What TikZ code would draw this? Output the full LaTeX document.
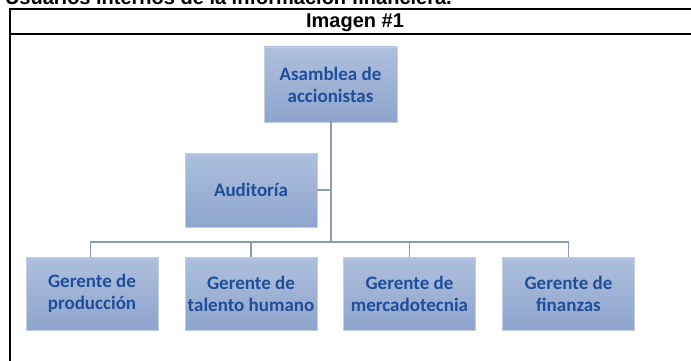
\documentclass[tikz,border=0pt]{standalone}
\usepackage{fontspec}
\setmainfont{Carlito}
\newfontfamily\arialf{Liberation Sans}
\definecolor{boxtop}{HTML}{AFC0DE}
\definecolor{boxbot}{HTML}{8DA4CD}
\definecolor{boxedge}{HTML}{C3CEE3}
\definecolor{boxtext}{HTML}{1F4E9A}
\definecolor{linec}{HTML}{8A9AB5}
\begin{document}
\begin{tikzpicture}[x=1pt,y=-1pt,
  orgbox/.style={draw=boxedge, line width=0.8pt, top color=boxtop, bottom color=boxbot,
    minimum width=132pt, minimum height=74pt, align=center, text=boxtext,
    font=\fontsize{19}{22}\selectfont\bfseries, inner sep=0pt},
  conn/.style={draw=linec, line width=1.5pt},
  frame/.style={draw=black, line width=2pt},
  hdr/.style={font=\arialf\bfseries\fontsize{20}{24}\selectfont, inner sep=0pt}]
\useasboundingbox (0,0) rectangle (691,361);
\clip (0,0) rectangle (691,361);
\fill[white] (0,0) rectangle (691,361);
% caption text (cut off at top)
\node[hdr, anchor=base east] (cap) at (452,5) {Usuarios internos de la información financiera.};
% table frame
\coordinate (tl) at (10,9);
\coordinate (tr) at (692,9);
\coordinate (ml) at (10,34);
\coordinate (mr) at (692,34);
\coordinate (bl) at (10,362);
\draw[frame] (tr) -- (tl) -- (bl);
\draw[frame] (ml) -- (mr);
\node[hdr, anchor=base] (title) at (355,28) {Imagen \#1};
% boxes
\node[orgbox, minimum width=133pt, minimum height=75pt] (asam) at (330.5,84.5) {Asamblea de\\accionistas};
\node[orgbox] (aud) at (251,190) {Auditoría};
\node[orgbox, minimum height=73pt] (g1) at (92,293.5) {Gerente de\\producción};
\node[orgbox, minimum height=73pt] (g2) at (251,293.5) {Gerente de\\talento humano};
\node[orgbox, minimum height=73pt] (g3) at (409.5,293.5) {Gerente de\\mercadotecnia};
\node[orgbox, minimum height=73pt] (g4) at (568.5,293.5) {Gerente de\\finanzas};
% connectors
\coordinate (hub) at (331,242);
\draw[conn] (asam.south -| hub) -- (hub);
\draw[conn] (aud.east) -- (aud.east -| hub);
\draw[conn] (g1.north -| 90.7,0) |- (hub);
\draw[conn] (hub) -| (g4.north);
\draw[conn] (g2.north) -- (g2.north |- hub);
\draw[conn] (g3.north) -- (g3.north |- hub);
\end{tikzpicture}
\end{document}
